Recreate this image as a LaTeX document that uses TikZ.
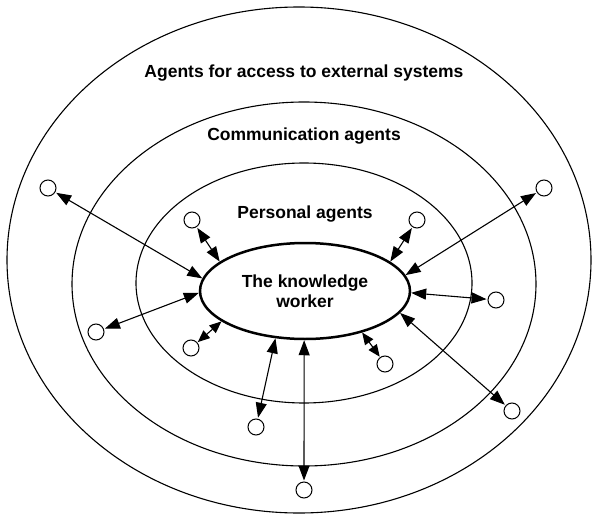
\documentclass[tikz,border=0pt]{standalone}
\usepackage{fontspec}
\setmainfont{Liberation Sans}
\usetikzlibrary{arrows.meta,shapes.geometric}
\tikzset{
  ring/.style={line width=1.1pt},
  agent/.style={circle, draw, minimum size=16pt, inner sep=0pt, line width=1pt},
  worker/.style={ellipse, draw, line width=2.5pt, minimum width=210pt, minimum height=96pt, inner sep=0pt, align=center, font=\bfseries\fontsize{17.5}{20}\selectfont},
  lbl/.style={font=\bfseries\fontsize{17.5}{20}\selectfont, inner sep=0pt},
  link/.style={{Triangle[length=15pt,width=11pt]}-{Triangle[length=15pt,width=11pt]}, line width=1.1pt, shorten <=1pt},
  shortlink/.style={{Triangle[length=12pt,width=10pt]}-{Triangle[length=12pt,width=10pt]}, line width=1.1pt, shorten <=0.5pt}
}
\begin{document}
\begin{tikzpicture}[x=1pt,y=-1pt]
\useasboundingbox (0,0) rectangle (592,514);
\draw[ring] (299,260) ellipse [x radius=292pt, y radius=253pt];
\draw[ring] (304,284) ellipse [x radius=232pt, y radius=182pt];
\draw[ring] (304,283) ellipse [x radius=168pt, y radius=120pt];
\node[lbl] (lext) at (304,73) {Agents for access to external systems};
\node[lbl] (lcom) at (304,136) {Communication agents};
\node[lbl] (lper) at (305,214) {Personal agents};
\node[worker] (kw) at (305,291) {The knowledge\\worker};
\node[agent] (c1) at (48,188) {};
\node[agent] (c2) at (544,188) {};
\node[agent] (c3) at (192,220) {};
\node[agent] (c4) at (417,220) {};
\node[agent] (c5) at (96,332) {};
\node[agent] (c6) at (191,348) {};
\node[agent] (c7) at (496,300) {};
\node[agent] (c8) at (512,411) {};
\node[agent] (c9) at (385,364) {};
\node[agent] (c10) at (256,427) {};
\node[agent] (c11) at (304,490) {};
\draw[link] (c1) -- (kw.173);
\draw[link] (c3) -- (kw.161);
\draw[link] (c2) -- (kw.9);
\draw[link] (c4) -- (kw.19);
\draw[link] (c5) -- (kw.181);
\draw[shortlink] (c6) -- (kw.200);
\draw[link] (c7) -- (kw.359);
\draw[link] (c8) -- (kw.347);
\draw[shortlink] (c9) -- (kw.324);
\draw[link] (c10) -- (kw.238);
\draw[link] (c11) -- (kw.269);
\end{tikzpicture}
\end{document}
